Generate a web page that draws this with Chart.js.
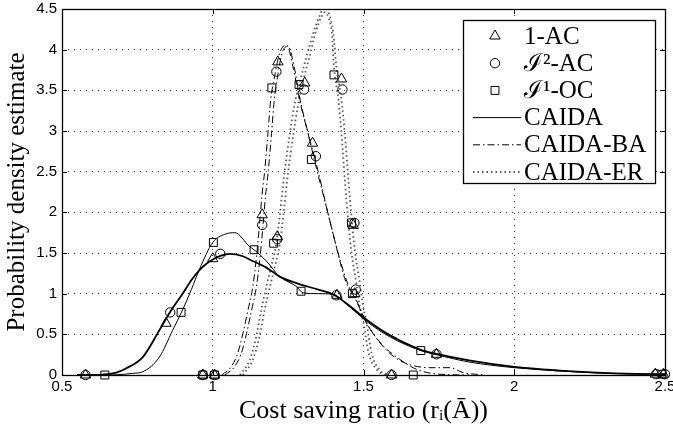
<!DOCTYPE html>
<html>
<head>
<meta charset="utf-8">
<script src="https://cdn.jsdelivr.net/npm/chart.js@4.4.0/dist/chart.umd.min.js"></script>
<style>
  html, body { margin: 0; padding: 0; background: #fff; }
  #wrap { width: 673px; height: 431px; }
</style>
</head>
<body>
<div id="wrap"><canvas id="chart"></canvas></div>
<script>
// ticks
const xTicks = [0.5, 1, 1.5, 2, 2.5];
const xTickLabels = ['0.5', '1', '1.5', '2', '2.5'];
const yTicks = [0, 0.5, 1, 1.5, 2, 2.5, 3, 3.5, 4, 4.5];
const yTickLabels = ['0', '0.5', '1', '1.5', '2', '2.5', '3', '3.5', '4', '4.5'];

const legendLabels = ['1-AC', 'ℐ²-AC', 'ℐ¹-OC', 'CAIDA', 'CAIDA-BA', 'CAIDA-ER'];

// markers: 1-AC (triangles)
const acX = [0.578, 0.845, 0.967, 1.0, 1.006, 1.164, 1.214, 1.216, 1.305, 1.331, 1.412, 1.427, 1.466, 1.471, 1.593, 1.742, 2.468, 2.495];
const acY = [0, 0.636, 0, 1.43, 0, 1.97, 1.70, 3.85, 3.59, 2.85, 0.98, 3.64, 1.84, 1.0, 0, 0.255, 0.01, 0.01];
// I2-AC (circles)
const i2X = [0.578, 0.859, 0.967, 1.006, 1.025, 1.164, 1.214, 1.211, 1.303, 1.342, 1.41, 1.43, 1.47, 1.474, 1.593, 1.742, 2.47, 2.5];
const i2Y = [0, 0.77, 0, 0, 1.49, 1.845, 1.67, 3.73, 3.51, 2.69, 0.98, 3.51, 1.87, 1.05, 0, 0.255, 0.01, 0.01];
// I1-OC (squares)
const i1X = [0.642, 0.895, 0.967, 1.006, 1.002, 1.137, 1.202, 1.196, 1.286, 1.293, 1.327, 1.402, 1.46, 1.463, 1.665, 1.69, 2.49];
const i1Y = [0, 0.77, 0, 0, 1.63, 1.54, 1.62, 3.53, 3.57, 1.03, 2.65, 3.69, 1.87, 1.0, 0, 0.30, 0.01];

// CAIDA (solid, two curves)
const caidaAX = [0.55, 0.6, 0.635, 0.68, 0.712, 0.768, 0.823, 0.856, 0.9, 0.93, 0.956, 0.98, 1.0, 1.03, 1.056, 1.1, 1.122, 1.178, 1.222, 1.277, 1.35, 1.4, 1.45, 1.51, 1.587, 1.69, 1.742, 1.85, 2.0, 2.15, 2.274, 2.4, 2.5];
const caidaAY = [0, 0, 0.005, 0.03, 0.08, 0.22, 0.55, 0.76, 1.0, 1.17, 1.29, 1.37, 1.42, 1.47, 1.49, 1.46, 1.42, 1.32, 1.21, 1.13, 1.05, 0.99, 0.86, 0.68, 0.49, 0.31, 0.26, 0.18, 0.10, 0.055, 0.03, 0.015, 0.01];
const caidaBX = [0.6, 0.68, 0.734, 0.768, 0.823, 0.867, 0.9, 0.929, 0.956, 1.0, 1.04, 1.073, 1.122, 1.137, 1.178, 1.222, 1.277, 1.3, 1.35, 1.4, 1.45, 1.51, 1.587, 1.69, 1.742, 1.85, 2.0, 2.15, 2.274, 2.4, 2.5];
const caidaBY = [0, 0.003, 0.02, 0.04, 0.22, 0.55, 0.80, 1.05, 1.30, 1.63, 1.73, 1.75, 1.58, 1.54, 1.40, 1.21, 1.09, 1.01, 1.0, 0.99, 0.85, 0.66, 0.47, 0.30, 0.25, 0.16, 0.09, 0.05, 0.025, 0.012, 0.008];

// CAIDA-BA (dash-dot, two curves)
const baAX = [1.03, 1.061, 1.083, 1.10, 1.117, 1.133, 1.145, 1.155, 1.163, 1.172, 1.183, 1.192, 1.205, 1.222, 1.245, 1.266, 1.288, 1.316, 1.344, 1.371, 1.399, 1.421, 1.443, 1.471, 1.51, 1.56, 1.61, 1.676, 1.75, 1.85];
const baAY = [0, 0.10, 0.27, 0.51, 0.80, 1.09, 1.45, 1.85, 2.2, 2.5, 2.97, 3.38, 3.67, 3.96, 4.06, 3.79, 3.38, 2.97, 2.54, 2.15, 1.74, 1.41, 1.13, 0.96, 0.64, 0.38, 0.22, 0.07, 0.01, 0];
const baBX = [1.04, 1.072, 1.095, 1.112, 1.129, 1.145, 1.157, 1.167, 1.175, 1.184, 1.195, 1.204, 1.215, 1.23, 1.25, 1.27, 1.29, 1.32, 1.35, 1.375, 1.40, 1.425, 1.45, 1.475, 1.51, 1.565, 1.61, 1.66, 1.72, 1.787, 1.83, 1.9];
const baBY = [0, 0.10, 0.27, 0.51, 0.80, 1.09, 1.45, 1.85, 2.2, 2.5, 2.97, 3.38, 3.67, 3.96, 4.04, 3.79, 3.38, 2.92, 2.5, 2.1, 1.72, 1.38, 1.1, 0.92, 0.64, 0.35, 0.2, 0.12, 0.09, 0.09, 0.03, 0];

// CAIDA-ER (dotted, two curves)
const erAX = [1.09, 1.122, 1.144, 1.161, 1.178, 1.195, 1.21, 1.222, 1.235, 1.255, 1.27, 1.29, 1.31, 1.333, 1.355, 1.37, 1.385, 1.40, 1.41, 1.427, 1.438, 1.45, 1.46, 1.471, 1.488, 1.499, 1.51, 1.527, 1.554, 1.58];
const erAY = [0, 0.18, 0.47, 0.80, 1.09, 1.35, 1.6, 1.95, 2.4, 2.95, 3.3, 3.62, 3.9, 4.2, 4.42, 4.52, 4.45, 4.2, 3.79, 3.38, 2.97, 2.4, 1.95, 1.54, 1.13, 0.84, 0.64, 0.27, 0.06, 0];
const erBX = [1.1, 1.132, 1.155, 1.172, 1.19, 1.207, 1.222, 1.234, 1.247, 1.267, 1.282, 1.3, 1.32, 1.34, 1.36, 1.372, 1.383, 1.395, 1.402, 1.417, 1.427, 1.438, 1.448, 1.459, 1.476, 1.488, 1.5, 1.517, 1.545, 1.57];
const erBY = [0, 0.18, 0.47, 0.80, 1.09, 1.35, 1.6, 1.95, 2.4, 2.95, 3.3, 3.62, 3.9, 4.2, 4.4, 4.46, 4.4, 4.2, 3.79, 3.38, 2.97, 2.4, 1.95, 1.54, 1.13, 0.84, 0.64, 0.27, 0.06, 0];

const pts = (xs, ys) => xs.map((x, i) => ({x: x, y: ys[i]}));

const markerSet = (data, style, r) => ({
  data: data, pointStyle: style, pointRadius: r, pointHoverRadius: r,
  pointBorderColor: '#000', pointBackgroundColor: 'rgba(0,0,0,0)', pointBorderWidth: 1,
  showLine: false, clip: false, order: 0
});
const lineSet = (data, width, dash, color) => ({
  data: data, showLine: true, pointRadius: 0, borderColor: color, borderWidth: width,
  borderDash: dash, cubicInterpolationMode: 'monotone', clip: 0, order: 1
});

const solidDash = [];
const baDash = [7, 3, 1.5, 3];
const erDash = [1.5, 3];
const erColor = '#555';

const frame = {
  id: 'frame',
  afterDraw(chart) {
    const {ctx, chartArea: a, scales} = chart;
    ctx.save();
    ctx.strokeStyle = '#000';
    ctx.lineWidth = 1;
    ctx.setLineDash([]);
    ctx.beginPath();
    for (const v of xTicks) {
      const p = Math.round(scales.x.getPixelForValue(v)) + 0.5;
      ctx.moveTo(p, a.bottom); ctx.lineTo(p, a.bottom - 5);
      ctx.moveTo(p, a.top); ctx.lineTo(p, a.top + 5);
    }
    for (const v of yTicks) {
      const p = Math.round(scales.y.getPixelForValue(v)) + 0.5;
      ctx.moveTo(a.left, p); ctx.lineTo(a.left + 5, p);
      ctx.moveTo(a.right, p); ctx.lineTo(a.right - 5, p);
    }
    ctx.stroke();
    ctx.lineWidth = 1.3;
    ctx.strokeRect(Math.round(a.left) + 0.5, Math.round(a.top) + 0.5, Math.round(a.right - a.left), Math.round(a.bottom - a.top));

    // legend
    const bx = 463, by = 20, bw = 192, bh = 163;
    ctx.fillStyle = '#fff';
    ctx.fillRect(bx, by, bw, bh);
    ctx.lineWidth = 1.3;
    ctx.strokeRect(bx + 0.5, by + 0.5, bw, bh);
    ctx.font = '25px "Liberation Serif", "DejaVu Serif", serif';
    ctx.textBaseline = 'middle';
    ctx.textAlign = 'left';
    const H = Chart.helpers;
    const styles = ['triangle', 'circle', 'rect'];
    const radii = [6, 4.7, 5.6];
    for (let i = 0; i < legendLabels.length; i++) {
      const cy = 36 + i * 27.2;
      ctx.strokeStyle = '#000';
      ctx.fillStyle = 'rgba(0,0,0,0)';
      ctx.lineWidth = 1;
      ctx.setLineDash([]);
      if (i < 3) {
        H.drawPoint(ctx, {pointStyle: styles[i], radius: radii[i], borderWidth: 1, rotation: 0}, 495, cy);
      } else {
        const dashes = [solidDash, baDash, erDash];
        ctx.setLineDash(dashes[i - 3]);
        ctx.lineWidth = i === 5 ? 1.8 : 1;
        ctx.strokeStyle = i === 5 ? erColor : '#000';
        ctx.beginPath();
        ctx.moveTo(473, cy); ctx.lineTo(521, cy);
        ctx.stroke();
        ctx.setLineDash([]);
      }
      ctx.fillStyle = '#000';
      ctx.fillText(legendLabels[i], 524, cy + 1);
    }
    ctx.restore();
  }
};

new Chart(document.getElementById('chart'), {
  type: 'scatter',
  data: {
    datasets: [
      markerSet(pts(acX, acY), 'triangle', 6),
      markerSet(pts(i2X, i2Y), 'circle', 4.7),
      markerSet(pts(i1X, i1Y), 'rect', 5.6),
      lineSet(pts(caidaAX, caidaAY), 1.8, solidDash, '#000'),
      lineSet(pts(caidaBX, caidaBY), 1, solidDash, '#000'),
      lineSet(pts(baAX, baAY), 1, baDash, '#000'),
      lineSet(pts(baBX, baBY), 1, baDash, '#000'),
      lineSet(pts(erAX, erAY), 1.8, erDash, erColor),
      lineSet(pts(erBX, erBY), 1.8, erDash, erColor)
    ]
  },
  options: {
    responsive: true,
    maintainAspectRatio: false,
    animation: false,
    layout: { autoPadding: false, padding: { top: 9, right: 8, left: 0, bottom: 0 } },
    plugins: { legend: { display: false }, tooltip: { enabled: false } },
    scales: {
      x: {
        type: 'linear', min: 0.5, max: 2.5,
        afterBuildTicks: (s) => { s.ticks = xTicks.map(v => ({value: v})); },
        afterFit: (s) => { s.height = 56; s.paddingLeft = 0; s.paddingRight = 0; },
        ticks: {
          color: '#000', padding: 3,
          font: { family: '"Liberation Sans", Arial, sans-serif', size: 15 },
          callback: (v, i) => xTickLabels[i]
        },
        grid: { color: '#333', lineWidth: 1, drawTicks: false },
        border: { display: false, dash: [1, 5] },
        title: {
          display: true, text: 'Cost saving ratio (rᵢ(Ā))', color: '#000',
          font: { family: '"Liberation Serif", "DejaVu Serif", serif', size: 26 },
          padding: { top: 0, bottom: 4 }
        }
      },
      y: {
        type: 'linear', min: 0, max: 4.5,
        afterBuildTicks: (s) => { s.ticks = yTicks.map(v => ({value: v})); },
        afterFit: (s) => { s.width = 62; s.paddingTop = 0; s.paddingBottom = 0; },
        ticks: {
          color: '#000', padding: 5,
          font: { family: '"Liberation Sans", Arial, sans-serif', size: 15 },
          callback: (v, i) => yTickLabels[i]
        },
        grid: { color: '#333', lineWidth: 1, drawTicks: false },
        border: { display: false, dash: [1, 5] },
        title: {
          display: true, text: 'Probability density estimate', color: '#000',
          font: { family: '"Liberation Serif", "DejaVu Serif", serif', size: 25 },
          padding: { top: 2, bottom: 0 }
        }
      }
    }
  },
  plugins: [frame]
});
</script>
</body>
</html>
